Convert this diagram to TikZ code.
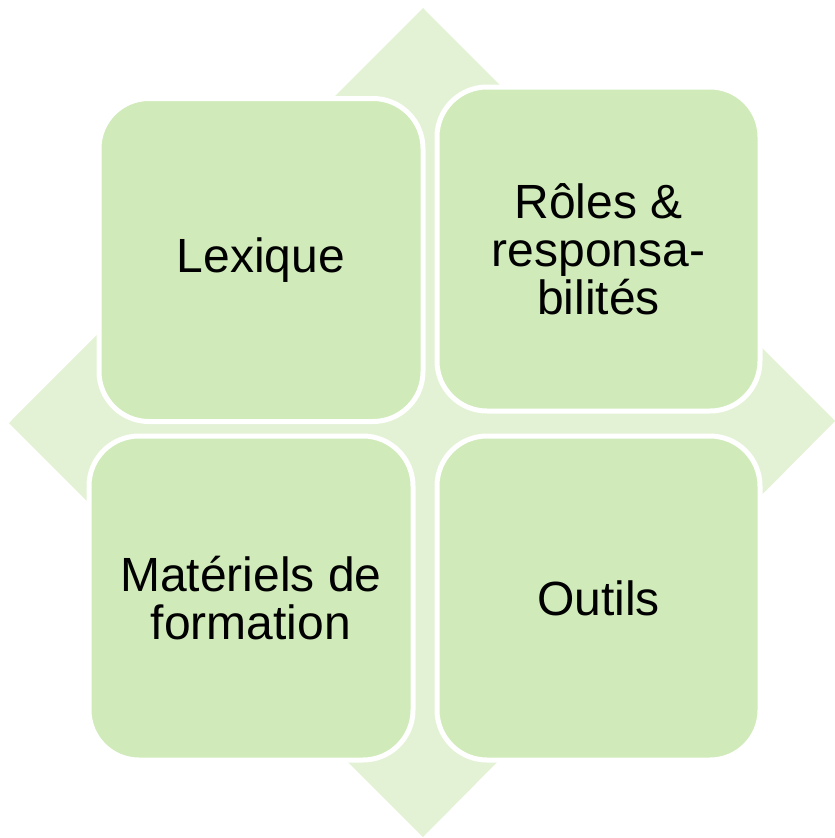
\documentclass[tikz,border=0pt]{standalone}
\usepackage{fontspec}
\setmainfont{Liberation Sans}
\definecolor{boxgreen}{RGB}{208,235,185}
\definecolor{backgreen}{RGB}{227,242,213}
\tikzset{cell/.style={draw=white, line width=5pt, fill=boxgreen, rounded corners=50pt,
  align=center, inner sep=0pt, font=\fontsize{48}{48}\selectfont}}
\begin{document}
\begin{tikzpicture}[x=1pt, y=-1pt]
\useasboundingbox (0,0) rectangle (835,838);
\fill[backgreen] (423,8) -- (835,421) -- (423,837) -- (9,423) -- cycle;

\node[cell, minimum width=324pt, minimum height=323pt] (lex) at (261,260) {Lexique};
\node[cell, minimum width=323pt, minimum height=324pt] (roles) at (598.5,249) {Rôles \&\\responsa-\\bilités};
\node[cell, minimum width=324pt, minimum height=324pt] (mat) at (251,598) {Matériels de\\formation};
\node[cell, minimum width=323pt, minimum height=324pt] (out) at (598.5,598) {Outils};
\end{tikzpicture}
\end{document}
